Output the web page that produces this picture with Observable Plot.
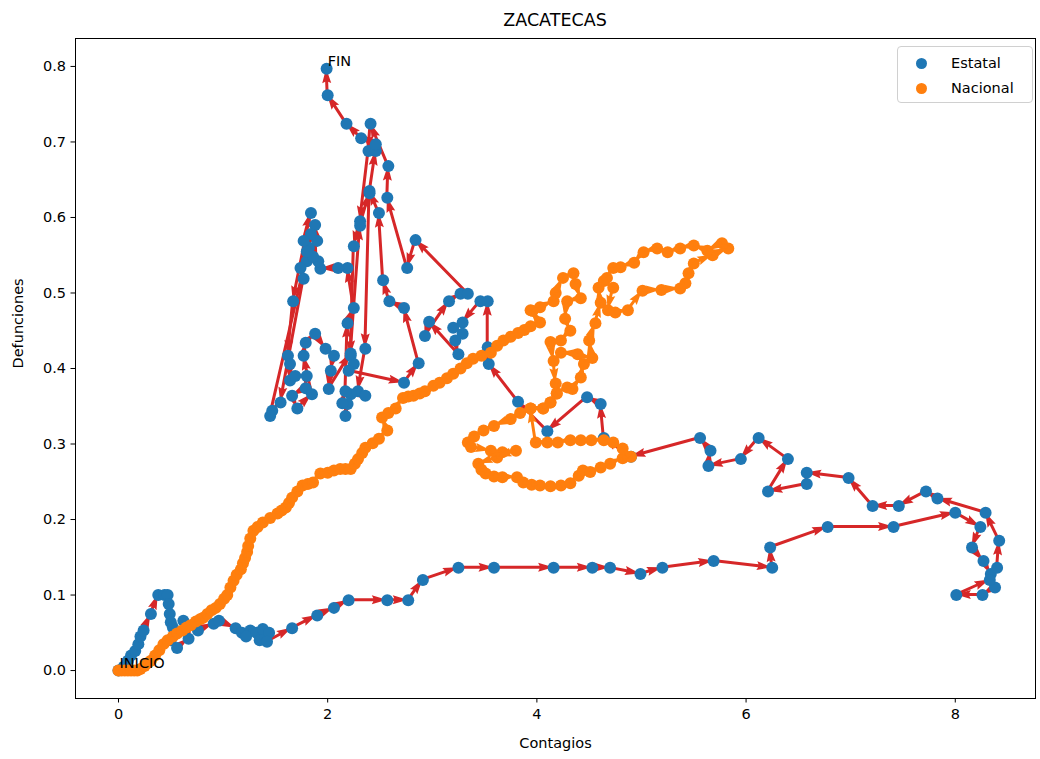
<!DOCTYPE html>
<html>
<head>
<meta charset="utf-8">
<script src="https://cdn.jsdelivr.net/npm/d3@7"></script>
<script src="https://cdn.jsdelivr.net/npm/@observablehq/plot@0.6"></script>
<style>
  html, body { margin: 0; padding: 0; background: #fff; }
  #wrap { position: relative; width: 1040px; height: 759px; font-family: "DejaVu Sans", sans-serif; }
  #title { position: absolute; left: 75px; width: 960px; top: 10px; text-align: center; font-size: 17.5px; color: #000; }
  #chart { position: absolute; left: 0; top: 30px; }
  #legend { position: absolute; left: 897px; top: 46px; width: 136px; height: 57px; border: 1px solid #d0d0d0; border-radius: 4px; background: rgba(255,255,255,0.8); font-size: 14.5px; color: #000; box-sizing: border-box; }
  .li { position: absolute; left: 0; height: 20px; line-height: 20px; }
  .sw { position: absolute; left: 18px; top: 5px; width: 11px; height: 11px; border-radius: 50%; }
  .lt { position: absolute; left: 53px; top: 0; white-space: nowrap; }
</style>
</head>
<body>
<div id="wrap">
  <div id="title"></div>
  <div id="chart"></div>
  <div id="legend"></div>
</div>
<script>
const titleText = "ZACATECAS";
const xLabel = "Contagios";
const yLabel = "Defunciones";
const seriesNames = ["Estatal", "Nacional"];
const seriesColors = ["#1f77b4", "#ff7f0e"];
const arrowColors = ["#d62728", "#ff7f0e"];
const xTicks = [0, 2, 4, 6, 8];
const yTicks = [0, 0.1, 0.2, 0.3, 0.4, 0.5, 0.6, 0.7, 0.8];
const startLabel = "INICIO";
const endLabel = "FIN";

// Estatal (state) trajectory, in order
const estatalX = [0,0.05,0.09,0.12,0.16,0.19,0.21,0.24,0.31,0.38,0.44,0.47,0.48,0.49,0.50,0.52,0.50,0.56,0.67,0.62,0.76,0.91,0.96,1.12,1.18,1.26,1.22,1.32,1.35,1.40,1.38,1.44,1.42,1.66,1.90,2.06,2.20,2.57,2.77,2.91,3.25,3.59,4.16,4.53,4.70,4.99,5.20,5.69,6.25,6.23,6.78,7.41,8.00,8.24,8.16,8.27,8.34,8.38,8.26,8.01,8.33,8.40,8.42,8.29,7.83,7.72,7.46,7.21,6.98,6.58,6.58,6.21,6.40,6.12,5.95,5.64,5.66,5.56,4.90,4.64,4.61,4.48,4.10,3.82,3.54,3.53,
  3.53,3.46,3.29,3.20,3.29,3.22,3.25,2.97,2.93,3.16,3.27,3.34,2.84,2.76,2.57,2.58,2.41,2.39,2.31,2.25,2.22,2.25,2.20,2.73,2.87,2.73,2.59,2.53,2.49,2.40,2.36,2.29,2.36,2.22,2.17,2.19,2.14,2.17,2.19,2.25,2.19,2.10,1.93,1.91,1.80,1.74,1.77,1.55,1.47,1.45,1.82,1.86,1.90,1.88,1.84,1.80,1.77,1.84,1.67,1.62,1.64,1.64,1.69,1.80,1.79,1.66,1.71,1.85,1.77,1.79,1.88,1.98,2.06,2.03,2.01,2.22,2.31,2.40,2.46,2.46,2.32,2.18,2.00,1.99];
const estatalY = [0,0.005,0.013,0.02,0.026,0.035,0.045,0.053,0.075,0.10,0.10,0.10,0.088,0.075,0.064,0.057,0.04,0.03,0.042,0.066,0.053,0.062,0.066,0.056,0.05,0.053,0.045,0.05,0.04,0.045,0.055,0.05,0.038,0.056,0.073,0.083,0.093,0.093,0.093,0.12,0.136,0.136,0.136,0.136,0.136,0.128,0.136,0.145,0.136,0.163,0.19,0.19,0.209,0.19,0.163,0.145,0.128,0.11,0.10,0.10,0.12,0.136,0.172,0.209,0.228,0.237,0.218,0.218,0.255,0.262,0.247,0.237,0.28,0.308,0.28,0.271,0.291,0.308,0.283,0.308,0.353,0.362,0.317,0.356,0.406,0.428,
  0.489,0.489,0.461,0.454,0.446,0.437,0.419,0.462,0.443,0.489,0.499,0.499,0.570,0.533,0.626,0.668,0.724,0.688,0.595,0.562,0.417,0.406,0.397,0.381,0.407,0.480,0.489,0.517,0.606,0.635,0.426,0.370,0.364,0.366,0.337,0.353,0.354,0.370,0.460,0.480,0.533,0.533,0.532,0.542,0.542,0.533,0.519,0.355,0.344,0.337,0.560,0.548,0.569,0.590,0.578,0.555,0.569,0.606,0.489,0.417,0.406,0.384,0.390,0.390,0.374,0.364,0.347,0.366,0.417,0.434,0.446,0.426,0.417,0.397,0.373,0.420,0.589,0.632,0.688,0.697,0.705,0.724,0.762,0.797];

// Nacional (national) trajectory, in order
const nacionalX = [0,0.03,0.06,0.09,0.12,0.15,0.18,0.21,0.25,0.28,0.31,0.35,0.39,0.43,0.47,0.52,0.56,0.61,0.65,0.69,0.74,0.78,0.81,0.85,0.89,0.93,0.97,1.01,1.04,1.07,1.10,1.13,1.17,1.19,1.21,1.23,1.24,1.26,1.29,1.33,1.38,1.45,1.52,1.56,1.60,1.63,1.66,1.71,1.76,1.81,1.86,1.93,2.00,2.06,2.12,2.17,2.22,2.26,2.29,2.33,2.36,2.43,2.49,2.57,2.52,2.58,2.65,2.72,2.77,2.82,2.88,2.93,3.01,3.07,3.14,3.20,3.27,3.33,3.39,3.47,3.56,3.62,3.68,3.75,3.82,3.88,3.94,4.03,3.94,
  3.96,4.03,4.16,4.18,4.25,4.35,4.37,4.42,4.29,4.27,4.32,4.23,4.13,4.16,4.18,4.19,4.13,4.06,3.94,3.84,3.75,3.59,3.49,3.40,3.34,3.37,3.56,3.67,3.80,3.62,3.44,3.47,3.51,3.59,3.67,3.81,3.87,3.95,4.03,4.13,4.23,4.32,4.40,4.44,4.51,4.61,4.70,4.82,4.90,4.82,4.73,4.64,4.52,4.42,4.32,4.20,4.10,3.99,3.94,4.06,4.13,4.19,4.29,4.34,4.42,4.45,4.39,4.23,4.53,4.50,4.56,4.61,4.59,4.64,4.73,4.68,4.75,4.87,5.01,5.19,5.37,5.42,5.45,5.50,5.68,5.83,5.77,5.63,5.50,5.37,5.25,5.15,5.02,4.93,4.80,4.73,4.67];
const nacionalY = [0,0,0,0,0,0,0,0.002,0.006,0.01,0.013,0.02,0.027,0.035,0.04,0.045,0.049,0.053,0.057,0.06,0.065,0.068,0.07,0.075,0.08,0.083,0.088,0.095,0.10,0.11,0.119,0.127,0.134,0.142,0.149,0.157,0.165,0.175,0.185,0.19,0.196,0.202,0.208,0.212,0.216,0.222,0.229,0.237,0.245,0.247,0.249,0.261,0.262,0.265,0.267,0.267,0.267,0.274,0.28,0.288,0.295,0.301,0.307,0.318,0.335,0.341,0.347,0.361,0.363,0.364,0.367,0.37,0.377,0.381,0.387,0.393,0.40,0.407,0.413,0.417,0.421,0.43,0.437,0.442,0.447,0.451,0.456,0.461,0.477,
  0.476,0.481,0.489,0.50,0.52,0.526,0.512,0.493,0.489,0.466,0.45,0.437,0.435,0.41,0.38,0.367,0.355,0.347,0.347,0.341,0.333,0.324,0.318,0.31,0.302,0.296,0.291,0.289,0.291,0.282,0.274,0.266,0.261,0.257,0.256,0.256,0.249,0.246,0.245,0.244,0.245,0.248,0.258,0.265,0.263,0.269,0.274,0.281,0.283,0.294,0.302,0.305,0.305,0.305,0.305,0.302,0.302,0.302,0.347,0.347,0.355,0.367,0.375,0.373,0.388,0.406,0.419,0.421,0.414,0.437,0.46,0.487,0.507,0.516,0.507,0.477,0.474,0.477,0.503,0.504,0.506,0.513,0.526,0.539,0.55,0.559,0.566,0.556,0.563,0.559,0.554,0.559,0.554,0.54,0.534,0.533,0.52];

const toPts = (xs, ys) => xs.map((x, i) => ({x, y: ys[i]}));
const toSegs = (pts) => pts.slice(1).map((p, i) => ({x1: pts[i].x, y1: pts[i].y, x2: p.x, y2: p.y}));
const estatal = toPts(estatalX, estatalY);
const nacional = toPts(nacionalX, nacionalY);
const segE = toSegs(estatal);
const segN = toSegs(nacional);

document.getElementById("title").textContent = titleText;

// matplotlib-quiver-like filled arrows (shaft + triangular head), drawn from the scaled channels
function quiverRender(color) {
  return function(index, scales, values) {
    const W = 3, HW = 3 * W, HL = 5 * W, HA = 4.5 * W;
    const g = d3.create("svg:g").attr("fill", color).attr("stroke", "none");
    for (const i of index) {
      const ax = values.x1[i], ay = values.y1[i], bx = values.x2[i], by = values.y2[i];
      const dx = bx - ax, dy = by - ay, len = Math.hypot(dx, dy);
      if (len < 0.5) continue;
      const s = len < HL ? len / HL : 1;
      const ux = dx / len, uy = dy / len, nx = -uy, ny = ux;
      const w = W * s / 2, hw = HW * s / 2, hl = HL * s, ha = HA * s;
      const local = [[0, -w], [len - ha, -w], [len - hl, -hw], [len, 0], [len - hl, hw], [len - ha, w], [0, w]];
      const pts = local.map(([u, v]) => [ax + u * ux + v * nx, ay + u * uy + v * ny]);
      g.append("path").attr("d", "M" + pts.map(p => p[0].toFixed(2) + "," + p[1].toFixed(2)).join("L") + "Z");
    }
    return g.node();
  };
}

const arrowOpts = {x1: "x1", y1: "y1", x2: "x2", y2: "y2", strokeWidth: 2.6, headLength: 6, headAngle: 45};

const chart = Plot.plot({
  width: 1040,
  height: 729,
  marginTop: 8,
  marginBottom: 61,
  marginLeft: 75,
  marginRight: 5,
  style: {fontFamily: "DejaVu Sans, sans-serif", fontSize: "14px", color: "#000", background: "white"},
  x: {domain: [-0.411, 8.767], inset: 0},
  y: {domain: [-0.037, 0.837], inset: 0},
  marks: [
    Plot.arrow(segE, {...arrowOpts, stroke: arrowColors[0], render: quiverRender(arrowColors[0])}),
    Plot.dot(estatal, {x: "x", y: "y", r: 6, fill: seriesColors[0], stroke: "none"}),
    Plot.dot(nacional, {x: "x", y: "y", r: 6, fill: seriesColors[1], stroke: "none"}),
    Plot.arrow(segN, {...arrowOpts, stroke: arrowColors[1], render: quiverRender(arrowColors[1])}),
    Plot.text([estatal[0]], {x: "x", y: "y", text: () => startLabel, textAnchor: "start", dx: 1, dy: -7, fontSize: 14.5, fill: "#000"}),
    Plot.text([estatal[estatal.length - 1]], {x: "x", y: "y", text: () => endLabel, textAnchor: "start", dx: 1, dy: -7, fontSize: 14.5, fill: "#000"}),
    Plot.frame({stroke: "#000", strokeWidth: 1}),
    Plot.axisX({ticks: xTicks, tickFormat: d => String(d), tickSize: 4.5, tickPadding: 6, label: null, fontSize: 14.5}),
    Plot.axisY({ticks: yTicks, tickFormat: d3.format(".1f"), tickSize: 4.5, tickPadding: 5, label: null, fontSize: 14.5}),
    Plot.text([xLabel], {frameAnchor: "bottom", dy: 49, text: d => d, fontSize: 14.5, fill: "#000"}),
    Plot.text([yLabel], {frameAnchor: "left", dx: -57, rotate: -90, text: d => d, fontSize: 14.5, fill: "#000"})
  ]
});
document.getElementById("chart").appendChild(chart);

const lg = document.getElementById("legend");
seriesNames.forEach((name, i) => {
  const row = document.createElement("div");
  row.className = "li";
  row.style.top = (6 + i * 25) + "px";
  row.innerHTML = `<span class="sw" style="background:${seriesColors[i]}"></span><span class="lt">${name}</span>`;
  lg.appendChild(row);
});
</script>
</body>
</html>
